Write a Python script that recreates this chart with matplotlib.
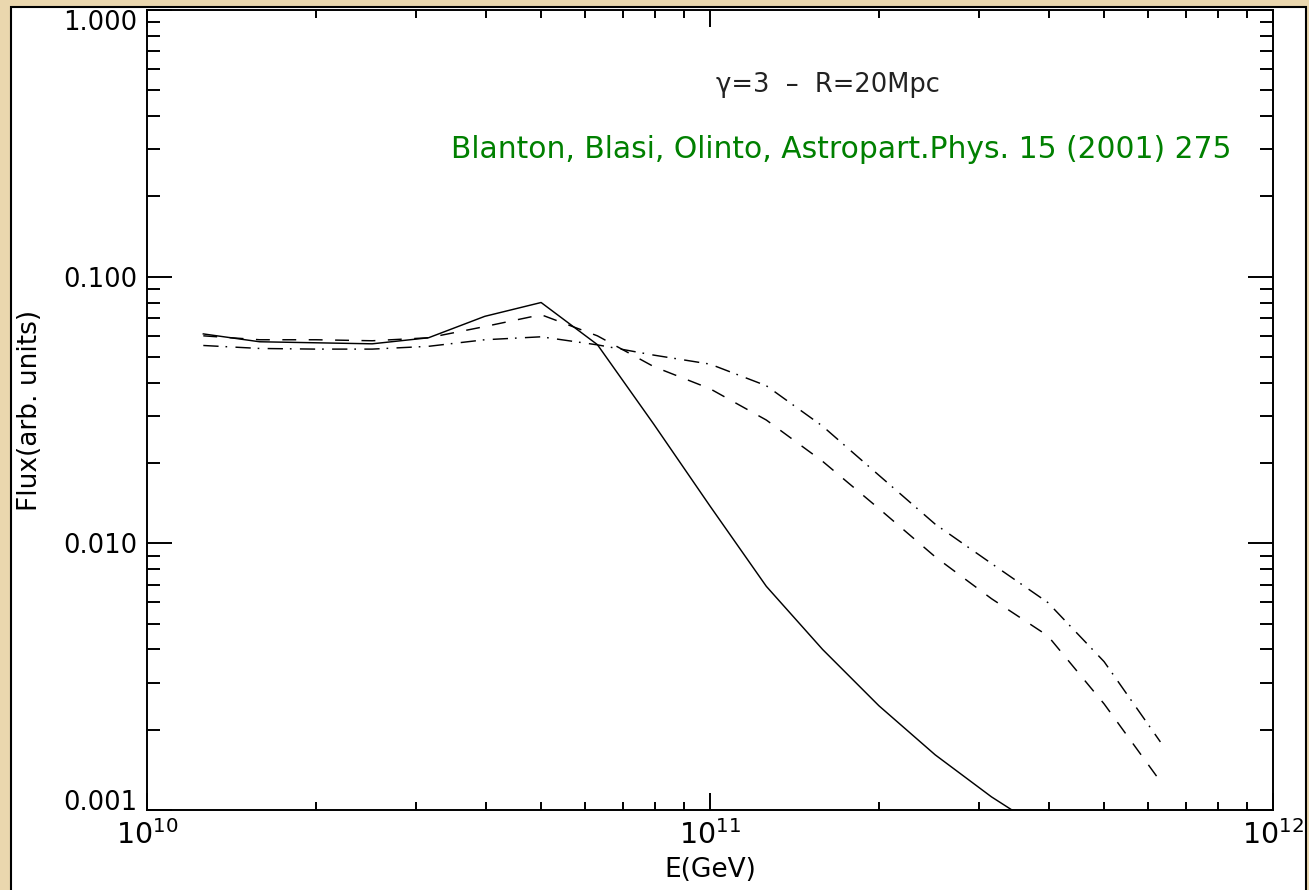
import numpy as np
import matplotlib
matplotlib.use("Agg")
import matplotlib.pyplot as plt
from matplotlib.ticker import LogLocator, FixedLocator, FixedFormatter, NullFormatter
from matplotlib.patches import Rectangle

# ---- data ----
log_energy = [10.1, 10.2, 10.3, 10.4, 10.5, 10.6, 10.7, 10.8, 10.9,
              11.0, 11.1, 11.2, 11.3, 11.4, 11.5, 11.6, 11.7, 11.8]
flux_solid = [0.061, 0.057, 0.0565, 0.0560, 0.059, 0.071, 0.080, 0.0556, 0.028,
              0.0138, 0.0069, 0.0040, 0.00246, 0.00161, 0.00112, 0.00082, 0.0006, 0.00044]
flux_dashed = [0.060, 0.058, 0.058, 0.0575, 0.059, 0.065, 0.072, 0.060, 0.046,
               0.038, 0.029, 0.0203, 0.0135, 0.0089, 0.0062, 0.0045, 0.0025, 0.00128]
flux_dashdot = [0.0552, 0.0538, 0.0535, 0.0535, 0.0548, 0.058, 0.0595, 0.0555, 0.0508,
                0.0470, 0.039, 0.0275, 0.018, 0.0118, 0.0084, 0.0060, 0.0036, 0.0018]
y_ticks = [0.001, 0.01, 0.1, 1.0]
y_tick_labels = ["0.001", "0.010", "0.100", "1.000"]
x_label = "E(GeV)"
y_label = "Flux(arb. units)"
note_text = "\u03b3=3  \u2013  R=20Mpc"
ref_text = "Blanton, Blasi, Olinto, Astropart.Phys. 15 (2001) 275"

energy = [10 ** v for v in log_energy]

plt.rcParams['font.family'] = ['DejaVu Sans']
plt.rcParams['mathtext.fontset'] = 'dejavusans'
plt.rcParams['lines.scale_dashes'] = False

W, H = 1309, 890
fig = plt.figure(figsize=(W / 100, H / 100), dpi=100)
fig.patch.set_facecolor("#EAD7AE")

# white panel behind the plot
bg = fig.add_axes([0, 0, 1, 1], zorder=-10)
bg.set_axis_off()
bg.set_xlim(0, 1)
bg.set_ylim(0, 1)
bg.add_patch(Rectangle((11 / W, -0.01), (1306 - 11) / W, (H - 7) / H + 0.01,
                       facecolor="white", edgecolor="black", linewidth=1.5))

ax = fig.add_axes([147 / W, (H - 810) / H, (1273 - 147) / W, (810 - 10) / H])
ax.set_facecolor("white")
ax.set_xscale("log")
ax.set_yscale("log")
ax.set_xlim(1e10, 1e12)
ax.set_ylim(1e-3, 1.0)

lw = 1.05
ax.plot(energy, flux_solid, color="black", lw=lw, linestyle="-")
ax.plot(energy, flux_dashed, color="black", lw=lw, linestyle=(0, (10, 9)))
ax.plot(energy, flux_dashdot, color="black", lw=lw, linestyle=(0, (11, 5, 1.2, 6)))

for s in ax.spines.values():
    s.set_linewidth(1.4)

ax.xaxis.set_major_locator(LogLocator(base=10, numticks=10))
ax.xaxis.set_minor_locator(LogLocator(base=10, subs=np.arange(2, 10), numticks=20))
ax.xaxis.set_minor_formatter(NullFormatter())
ax.yaxis.set_major_locator(FixedLocator(y_ticks))
ax.yaxis.set_major_formatter(FixedFormatter(y_tick_labels))
ax.yaxis.set_minor_locator(LogLocator(base=10, subs=np.arange(2, 10), numticks=20))
ax.yaxis.set_minor_formatter(NullFormatter())

ax.tick_params(axis="both", which="both", direction="in", top=True, right=True,
               width=1.4, colors="black")
ax.tick_params(axis="x", which="major", length=12.2, labelsize=20.5, pad=7)
ax.tick_params(axis="x", which="minor", length=5.8)
ax.tick_params(axis="y", which="major", length=18, labelsize=18.5, pad=7)
ax.tick_params(axis="y", which="minor", length=9.4)

fig.canvas.draw()
ylabels = ax.yaxis.get_ticklabels()
for t, v in zip(ylabels, y_ticks):
    if v == 1.0:
        t.set_va("top")
    elif v == 0.001:
        t.set_va("baseline")

ax.set_xlabel(x_label, fontsize=19, labelpad=5)
ax.set_ylabel(y_label, fontsize=19)
ax.yaxis.set_label_coords((43 - 147) / (1273 - 147), 0.5)

ax.text(0.605, 0.906, note_text, transform=ax.transAxes, ha="center", va="center",
        fontsize=18.5, color="#222222")
ax.text(0.617, 0.825, ref_text, transform=ax.transAxes, ha="center", va="center",
        fontsize=21.4, color="#008000")

fig.savefig("out.png", dpi=100, facecolor=fig.get_facecolor())
